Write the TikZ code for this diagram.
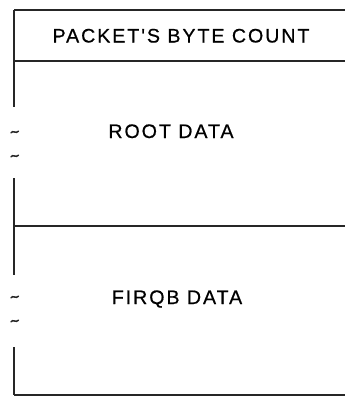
\documentclass[tikz,border=0pt]{standalone}
\usepackage{fontspec}
\setmainfont{Liberation Sans}
\newfontfamily\widesans[LetterSpace=10,FakeBold=0.6]{Liberation Sans}
\begin{document}
\begin{tikzpicture}[x=1pt,y=-1pt,
  rule/.style={line width=1.6pt,black!85},
  label/.style={font=\widesans\fontsize{19.6}{22}\selectfont,inner sep=0pt},
  wave/.style={line width=1.5pt,black!85,line cap=round}]
\useasboundingbox (0,0) rectangle (345,397);
% horizontal boundaries
\draw[rule] (14,10) -- (345,10);
\draw[rule] (14,61) -- (345,61);
\draw[rule] (14,226) -- (345,226);
\draw[rule] (14,395) -- (345,395);
% left edge, broken by elision marks
\draw[rule] (14,10) -- (14,107);
\draw[rule] (14,178) -- (14,275);
\draw[rule] (14,347) -- (14,395);
\foreach \yy in {132,156,297,321}
  \draw[wave] (11,\yy+0.8) .. controls (13,\yy-2.2) and (16,\yy+2.2) .. (18.5,\yy-0.8);
% field labels
\node[label,anchor=base] (count) at (181,42.5) {PACKET'S BYTE COUNT};
\node[label,anchor=base] (root) at (171,138) {ROOT DATA};
\node[label,anchor=base] (firqb) at (177,304) {FIRQB DATA};
\end{tikzpicture}
\end{document}
